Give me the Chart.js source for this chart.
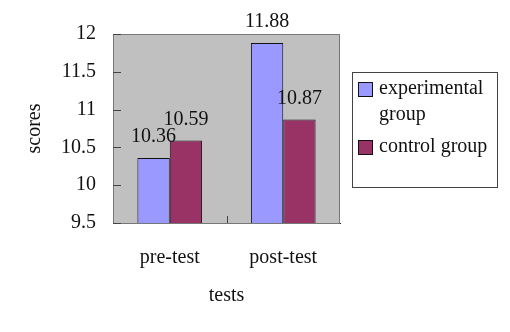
<!DOCTYPE html>
<html>
<head>
<meta charset="utf-8">
<script src="https://cdn.jsdelivr.net/npm/chart.js@4"></script>
<style>
  html, body { margin:0; padding:0; background:#fff; }
  #wrap { width:510px; height:332px; }
</style>
</head>
<body>
<div id="wrap"><canvas id="chart"></canvas></div>
<script>
// categories and values
const categories = ['pre-test', 'post-test'];
const experimental = [10.36, 11.88];
const control = [10.59, 10.87];
const seriesNames = [['experimental', 'group'], ['control group']];
const yTicks = [9.5, 10, 10.5, 11, 11.5, 12];

const FONT = 'Liberation Serif';
const FS = 20;
const colors = { exp: '#9999ff', ctrl: '#993366', plot: '#c0c0c0' };

// gray plot background + outline + inward tick marks
const plotBg = {
    id: 'plotBg',
    beforeDatasetsDraw(chart){
        const { ctx, chartArea: a } = chart;
        ctx.save();
        ctx.fillStyle = colors.plot;
        ctx.fillRect(a.left, a.top, a.right - a.left, a.bottom - a.top);
        ctx.strokeStyle = '#777';
        ctx.lineWidth = 1;
        ctx.strokeRect(a.left + 0.5, a.top + 0.5, a.right - a.left - 1, a.bottom - a.top);
        ctx.strokeStyle = '#444';
        ctx.beginPath();
        // between categories
        const xs = chart.scales.x;
        const mid = Math.round((xs.getPixelForValue(0) + xs.getPixelForValue(1)) / 2) + 0.5;
        ctx.moveTo(mid, a.bottom);
        ctx.lineTo(mid, a.bottom - 7);
        // y ticks
        const ys = chart.scales.y;
        yTicks.forEach(v => {
            const py = Math.round(ys.getPixelForValue(v)) + 0.5;
            ctx.moveTo(a.left, py);
            ctx.lineTo(a.left + 8, py);
        });
        ctx.stroke();
        ctx.restore();
    }
};

// value labels over each bar
const valueLabels = {
    id: 'valueLabels',
    afterDatasetsDraw(chart){
        const { ctx } = chart;
        ctx.save();
        ctx.font = FS + 'px "' + FONT + '"';
        ctx.fillStyle = '#111';
        ctx.textAlign = 'center';
        ctx.textBaseline = 'middle';
        chart.data.datasets.forEach((ds, i) => {
            chart.getDatasetMeta(i).data.forEach((bar, j) => {
                ctx.fillText(ds.data[j].toFixed(2), bar.x, bar.y - 21);
            });
        });
        ctx.restore();
    }
};

// boxed legend on the right
const boxLegend = {
    id: 'boxLegend',
    afterDraw(chart){
        const { ctx } = chart;
        const x = 352, y = 72, w = 145, h = 115;
        ctx.save();
        ctx.fillStyle = '#fff';
        ctx.fillRect(x, y, w, h);
        ctx.strokeStyle = '#444';
        ctx.lineWidth = 1;
        ctx.strokeRect(x + 0.5, y + 0.5, w, h);
        ctx.font = FS + 'px "' + FONT + '"';
        ctx.textBaseline = 'middle';
        ctx.textAlign = 'left';
        let ty = y + 17;
        chart.data.datasets.forEach((ds, i) => {
            ctx.fillStyle = ds.backgroundColor;
            ctx.fillRect(x + 6, ty - 7, 14, 14);
            ctx.strokeStyle = '#111';
            ctx.strokeRect(x + 6.5, ty - 6.5, 14, 14);
            ctx.fillStyle = '#111';
            seriesNames[i].forEach((line, k) => {
                ctx.fillText(line, x + 27, ty + k * 26);
            });
            ty += seriesNames[i].length * 26 + 6;
        });
        ctx.restore();
    }
};

new Chart(document.getElementById('chart'), {
    type: 'bar',
    data: {
        labels: categories,
        datasets: [
            { label: 'experimental group', data: experimental, backgroundColor: colors.exp, borderColor: '#111', borderWidth: 1 },
            { label: 'control group', data: control, backgroundColor: colors.ctrl, borderColor: '#111', borderWidth: 1 }
        ]
    },
    options: {
        responsive: true,
        maintainAspectRatio: false,
        animation: false,
        layout: { padding: { top: 34, right: 170, left: 0, bottom: 0 } },
        datasets: { bar: { barPercentage: 1, categoryPercentage: 0.57 } },
        plugins: { legend: { display: false }, tooltip: { enabled: false } },
        scales: {
            x: {
                grid: { display: false },
                border: { display: true, color: '#222' },
                ticks: { color: '#111', padding: 15, font: { family: FONT, size: FS } },
                title: { display: true, text: 'tests', color: '#111', font: { family: FONT, size: FS, lineHeight: 1.2 }, padding: { top: 0, bottom: 24 } },
                afterFit(s){ s.height = 109; }
            },
            y: {
                min: 9.5, max: 12,
                afterBuildTicks(s){ s.ticks = yTicks.map(v => ({ value: v })); },
                grid: { display: false, drawTicks: false },
                border: { display: true, color: '#222' },
                ticks: { color: '#111', padding: 17, font: { family: FONT, size: FS }, callback: v => String(v) },
                title: { display: true, text: 'scores', color: '#111', font: { family: FONT, size: FS, lineHeight: 1.2 }, padding: { top: 23, bottom: 0 } },
                afterFit(s){ s.width = 113; }
            }
        }
    },
    plugins: [plotBg, valueLabels, boxLegend]
});
</script>
</body>
</html>
